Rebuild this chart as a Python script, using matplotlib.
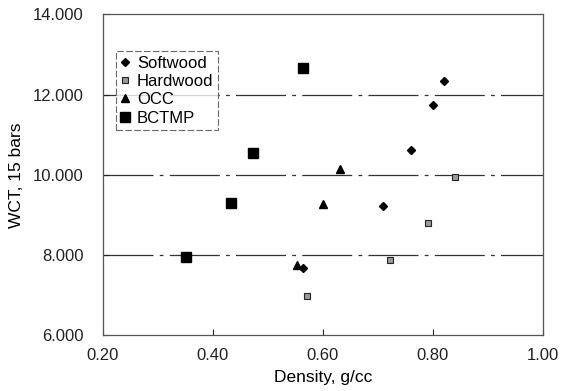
import matplotlib
matplotlib.use("Agg")
import matplotlib.pyplot as plt
from matplotlib.ticker import FormatStrFormatter

plt.rcParams['font.family'] = ['Liberation Sans', 'DejaVu Sans']

soft_x = [0.820, 0.800, 0.761, 0.709, 0.564]
soft_y = [12.35, 11.74, 10.62, 9.23, 7.68]
hard_x = [0.841, 0.792, 0.722, 0.571]
hard_y = [9.95, 8.79, 7.87, 6.98]
occ_x = [0.631, 0.601, 0.552]
occ_y = [10.14, 9.27, 7.74]
bctmp_x = [0.564, 0.473, 0.432, 0.351]
bctmp_y = [12.67, 10.54, 9.30, 7.95]

xticks = [0.20, 0.40, 0.60, 0.80, 1.00]
yticks = [6, 8, 10, 12, 14]

fig = plt.figure(figsize=(5.66, 3.91), dpi=100)
ax = fig.add_axes([0.182, 0.143, 0.777, 0.820])

for y in [8, 10, 12]:
    ax.axhline(y, color='#333333', lw=0.9, linestyle=(0, (40, 5, 3, 5)), zorder=1)

ax.plot(soft_x, soft_y, linestyle='none', marker='D', ms=4.5, color='black', label='Softwood', zorder=3)
ax.plot(hard_x, hard_y, linestyle='none', marker='s', ms=4.5, markerfacecolor='#9a9a9a',
        markeredgecolor='#222222', markeredgewidth=0.8, label='Hardwood', zorder=3)
ax.plot(occ_x, occ_y, linestyle='none', marker='^', ms=5.5, color='black', label='OCC', zorder=3)
ax.plot(bctmp_x, bctmp_y, linestyle='none', marker='s', ms=7, color='black', label='BCTMP', zorder=3)

ax.set_xlim(0.2, 1.0)
ax.set_ylim(6, 14)
ax.set_xticks(xticks)
ax.set_yticks(yticks)
ax.xaxis.set_major_formatter(FormatStrFormatter('%.2f'))
ax.yaxis.set_major_formatter(FormatStrFormatter('%.3f'))
ax.tick_params(direction='in', length=4, labelsize=12, colors='#222222')
ax.tick_params(axis='y', pad=14)
ax.tick_params(axis='x', pad=9)
for s in ax.spines.values():
    s.set_color('#555555')
    s.set_linewidth(0.9)

ax.set_xlabel('Density, g/cc', fontsize=12.5, labelpad=5)
ax.set_ylabel('WCT, 15 bars', fontsize=12.5, labelpad=6)

leg = ax.legend(loc='upper left', bbox_to_anchor=(0.03, 0.885), fontsize=12,
                frameon=True, fancybox=False, handlelength=0.6, handletextpad=0.4,
                borderpad=0.25, labelspacing=0.2, borderaxespad=0)
leg.get_frame().set_edgecolor('#444444')
leg.get_frame().set_linestyle((0, (6, 2)))
leg.get_frame().set_linewidth(0.8)

fig.savefig('out.png', dpi=100)
